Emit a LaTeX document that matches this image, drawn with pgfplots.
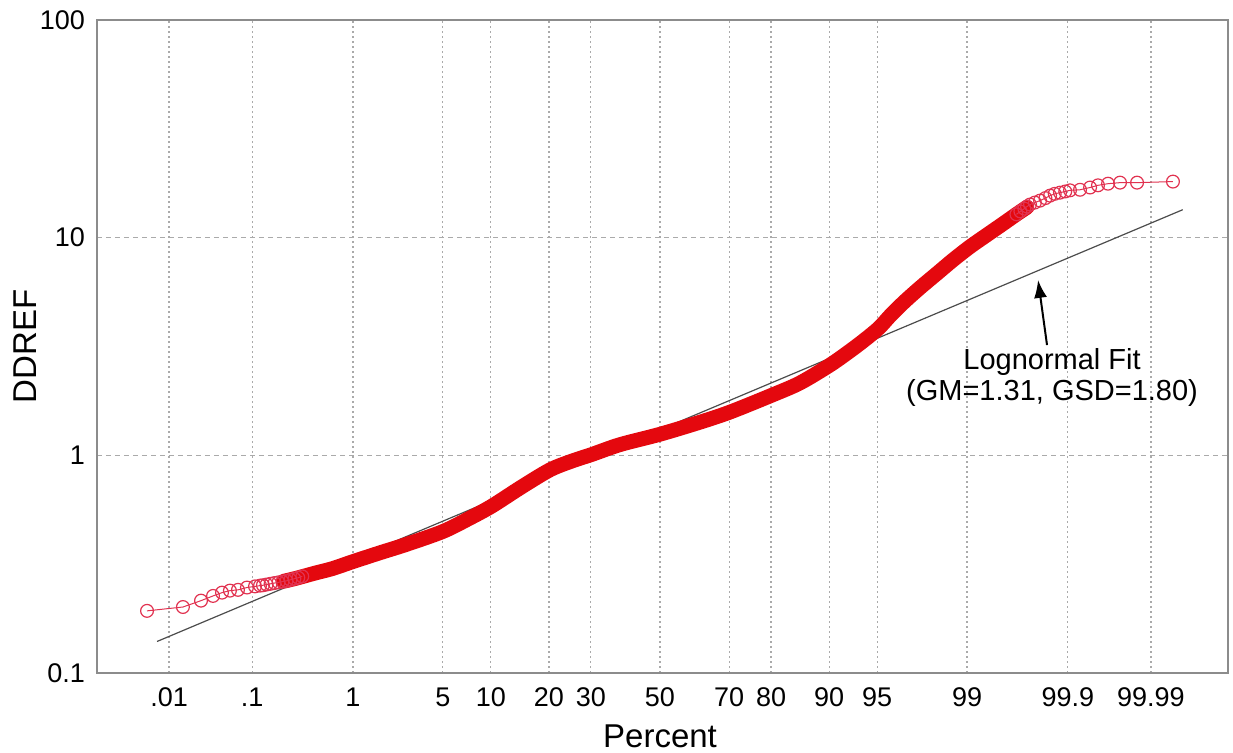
\documentclass[border=0pt]{standalone}
\usepackage{fontspec}
\setmainfont{Liberation Sans}
\usepackage{pgfplots}
\pgfplotsset{compat=1.18}
\usetikzlibrary{arrows.meta}
\definecolor{bandred}{RGB}{228,8,14}
\definecolor{tailred}{RGB}{225,50,80}
\definecolor{framegray}{RGB}{140,140,140}
\definecolor{gridgray}{RGB}{170,170,170}
\begin{document}
\begin{tikzpicture}
\path[use as bounding box] (-48.5bp,-40bp) rectangle (568bp,336.5bp);
\begin{axis}[
  scale only axis, width=565.5bp, height=326.5bp,
  xmin=-4.265, xmax=4.303, ymin=0.1, ymax=100, ymode=log,
  axis line style={framegray, line width=1bp},
  major tick length=0pt, minor tick length=0pt,
  xtick={-3.719,-3.090,-2.326,-1.645,-1.2816,-0.8416,-0.5244,0,0.5244,0.8416,1.2816,1.645,2.326,3.090,3.719},
  xticklabels={.01,.1,1,5,10,20,30,50,70,80,90,95,99,99.9,99.99},
  ytick={0.1,1,10,100}, yticklabels={0.1,1,10,100},
  minor ytick={},
  xmajorgrids, ymajorgrids,
  x grid style={gridgray, line width=0.6bp, dash pattern=on 1bp off 1.5bp},
  y grid style={gridgray, line width=0.6bp, dash pattern=on 2.5bp off 2bp},
  tick label style={font=\fontsize{13.5bp}{16bp}\selectfont, black},
  xticklabel shift=4bp, yticklabel shift=2.5bp,
  xlabel={Percent}, ylabel={DDREF},
  label style={font=\fontsize{16.5bp}{19bp}\selectfont},
  xlabel style={at={(axis description cs:0.4978,-0.0965)}, anchor=center},
  ylabel style={at={(axis description cs:-0.0637,0.5)}, anchor=center},
]
% lognormal fit line
\addplot[black!70, line width=0.6bp] coordinates {(-3.81,0.1396) (3.96,13.44)};
% dense part of the data
\addplot[bandred, line width=7.4bp, line cap=round, line join=round, smooth] coordinates {
(-2.85,0.264) (-2.75,0.273) (-2.62,0.287) (-2.48,0.302) (-2.326,0.325)
(-2.12,0.357) (-1.92,0.390) (-1.644,0.447) (-1.44,0.515) (-1.273,0.585)
(-1.05,0.715) (-0.833,0.858) (-0.67,0.940) (-0.515,1.01) (-0.303,1.12)
(0,1.25) (0.303,1.42) (0.53,1.58) (0.848,1.89) (1.06,2.15) (1.288,2.60)
(1.45,3.05) (1.56,3.43) (1.659,3.85) (1.75,4.42) (1.85,5.07) (1.97,5.89)
(2.10,6.86) (2.22,7.9) (2.35,9.1) (2.477,10.3) (2.60,11.6) (2.70,12.8) (2.78,13.8)
};
% lower tail
\addplot[tailred, line width=0.5bp, mark=o, mark size=3.2bp, mark options={line width=0.6bp}] coordinates {
(-3.886,0.193) (-3.614,0.201) (-3.477,0.215) (-3.386,0.226) (-3.318,0.234)
(-3.258,0.239) (-3.197,0.241) (-3.129,0.247) (-3.068,0.250) (-3.030,0.252) (-3.008,0.253)
(-2.98,0.255) (-2.95,0.257) (-2.92,0.259) (-2.89,0.261) (-2.86,0.263) (-2.83,0.265)
(-2.80,0.268) (-2.77,0.271) (-2.74,0.274) (-2.71,0.278)
};
% upper tail
\addplot[tailred, line width=0.5bp, mark=o, mark size=3.2bp, mark options={line width=0.6bp}] coordinates {
(2.70,12.8) (2.73,13.2) (2.76,13.6) (2.78,13.9) (2.803,14.2) (2.84,14.5) (2.879,14.8)
(2.92,15.2) (2.955,15.6) (2.99,15.9) (3.03,16.1) (3.07,16.3)
(3.106,16.5) (3.182,16.6) (3.258,17.0) (3.318,17.4) (3.394,17.7) (3.485,17.9)
(3.614,17.9) (3.886,18.1)
};
\draw[-{Latex[length=9bp,width=6.5bp]}, line width=1bp] (axis cs:2.932,3.21) -- (axis cs:2.864,6.40);
\node[align=center, inner sep=0pt, font=\fontsize{14.5bp}{15.5bp}\selectfont] at (axis cs:2.97,2.276) {Lognormal Fit\\(GM=1.31, GSD=1.80)};
\end{axis}
\end{tikzpicture}
\end{document}
